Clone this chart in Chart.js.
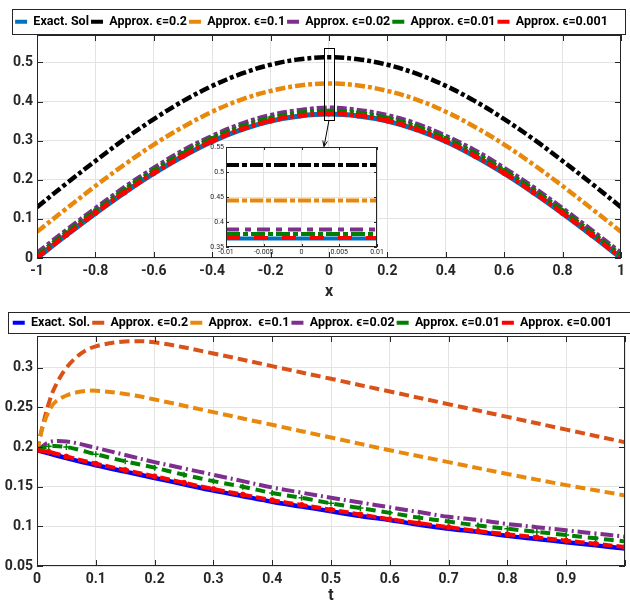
<!DOCTYPE html>
<html lang="en">
<head>
<meta charset="UTF-8" />
<title>Exact vs approximate solutions</title>
<script src="https://cdn.jsdelivr.net/npm/chart.js"></script>
<style>
  html, body { margin: 0; padding: 0; background: #fff; }
  #wrap { position: relative; width: 630px; height: 606px; overflow: hidden; }
  #top { position: absolute; left: 0; top: 0; }
  #inset { position: absolute; left: 195px; top: 140px; }
  #bottom { position: absolute; left: 0; top: 300px; }
</style>
</head>
<body>
<div id="wrap">
  <canvas id="top" width="630" height="300"></canvas>
  <canvas id="inset" width="190" height="122"></canvas>
  <canvas id="bottom" width="645" height="306"></canvas>
</div>
<script>
// ---- top panel: u(x) at final time ----
const xVals = [-1, -0.9, -0.8, -0.7, -0.6, -0.5, -0.4, -0.3, -0.2, -0.1, 0, 0.1, 0.2, 0.3, 0.4, 0.5, 0.6, 0.7, 0.8, 0.9, 1];
const exactX  = [0, 0.058, 0.114, 0.167, 0.216, 0.260, 0.298, 0.328, 0.350, 0.363, 0.368, 0.363, 0.350, 0.328, 0.298, 0.260, 0.216, 0.167, 0.114, 0.058, 0];
const eps02X  = [0.130, 0.190, 0.248, 0.304, 0.355, 0.401, 0.440, 0.471, 0.494, 0.508, 0.513, 0.508, 0.494, 0.471, 0.440, 0.401, 0.355, 0.304, 0.248, 0.190, 0.130];
const eps01X  = [0.067, 0.126, 0.184, 0.239, 0.290, 0.335, 0.374, 0.405, 0.427, 0.441, 0.446, 0.441, 0.427, 0.405, 0.374, 0.335, 0.290, 0.239, 0.184, 0.126, 0.067];
const eps002X = [0.013, 0.071, 0.127, 0.181, 0.230, 0.275, 0.312, 0.343, 0.365, 0.378, 0.384, 0.378, 0.365, 0.343, 0.312, 0.275, 0.230, 0.181, 0.127, 0.071, 0.013];
const eps001X = [0.007, 0.065, 0.121, 0.175, 0.224, 0.268, 0.306, 0.336, 0.358, 0.371, 0.376, 0.371, 0.358, 0.336, 0.306, 0.268, 0.224, 0.175, 0.121, 0.065, 0.007];
const eps0001X = [0.001, 0.059, 0.115, 0.168, 0.217, 0.261, 0.299, 0.329, 0.351, 0.364, 0.369, 0.364, 0.351, 0.329, 0.299, 0.261, 0.217, 0.168, 0.115, 0.059, 0.001];
const topLabels = ['Exact. Sol', 'Approx. \u03f5=0.2', 'Approx. \u03f5=0.1', 'Approx. \u03f5=0.02', 'Approx. \u03f5=0.01', 'Approx. \u03f5=0.001'];

// inset (zoom near x = 0)
const insetX = [-0.01, -0.005, 0, 0.005, 0.01];
const insetExact = [0.367, 0.367, 0.367, 0.367, 0.367];
const inset02 = [0.514, 0.514, 0.514, 0.514, 0.514];
const inset01 = [0.443, 0.443, 0.443, 0.443, 0.443];
const inset002 = [0.385, 0.385, 0.385, 0.385, 0.385];
const inset001 = [0.376, 0.376, 0.376, 0.376, 0.376];
const inset0001 = [0.368, 0.368, 0.368, 0.368, 0.368];
// zoom rectangle on the main panel (data units) and where the arrow lands
const zoomBox = { x0: -0.017, x1: 0.017, y0: 0.352, y1: 0.536 };
const arrowTo = { x: -0.017, y: 0.285 };

// ---- bottom panel: u at a point vs t ----
const tFine = [0, 0.005, 0.01, 0.02, 0.03, 0.05, 0.075, 0.1, 0.15, 0.2, 0.3, 0.4, 0.5, 0.6, 0.7, 0.8, 0.9, 1];
const eps02T = [0.195, 0.212, 0.228, 0.255, 0.275, 0.300, 0.318, 0.327, 0.333, 0.332, 0.318, 0.302, 0.286, 0.270, 0.254, 0.238, 0.222, 0.206];
const eps01T = [0.195, 0.212, 0.226, 0.245, 0.256, 0.265, 0.270, 0.271, 0.267, 0.260, 0.244, 0.228, 0.212, 0.196, 0.181, 0.166, 0.152, 0.139];
const tCoarse = [0, 0.02, 0.05, 0.1, 0.15, 0.2, 0.25, 0.3, 0.35, 0.4, 0.45, 0.5, 0.55, 0.6, 0.65, 0.7, 0.75, 0.8, 0.85, 0.9, 0.95, 1];
const exactT   = [0.196, 0.192, 0.186, 0.177, 0.169, 0.161, 0.153, 0.145, 0.138, 0.131, 0.125, 0.119, 0.113, 0.108, 0.102, 0.097, 0.093, 0.088, 0.084, 0.080, 0.076, 0.072];
const eps002T  = [0.195, 0.206, 0.207, 0.199, 0.190, 0.181, 0.173, 0.165, 0.157, 0.149, 0.1425, 0.136, 0.130, 0.124, 0.118, 0.112, 0.108, 0.103, 0.099, 0.095, 0.091, 0.087];
const eps001T  = [0.196, 0.201, 0.200, 0.191, 0.182, 0.174, 0.165, 0.157, 0.150, 0.142, 0.136, 0.129, 0.123, 0.117, 0.111, 0.106, 0.101, 0.097, 0.093, 0.089, 0.085, 0.081];
const eps0001T = [0.196, 0.194, 0.188, 0.179, 0.171, 0.163, 0.155, 0.147, 0.140, 0.133, 0.127, 0.121, 0.115, 0.109, 0.104, 0.099, 0.094, 0.090, 0.086, 0.082, 0.078, 0.074];
const bottomLabels = ['Exact. Sol.', 'Approx. \u03f5=0.2', 'Approx.  \u03f5=0.1', 'Approx. \u03f5=0.02', 'Approx. \u03f5=0.01', 'Approx. \u03f5=0.001'];

const FONT = "Roboto, 'Liberation Sans', 'DejaVu Sans', sans-serif";
const INK = '#262626';
const GRID = '#e3e3e3';
const tickFont = { family: FONT, size: 14, weight: 'bold' };
const fmt = v => String(Math.round(v * 1000) / 1000);
const pts = (xs, ys) => ys.map((y, i) => ({ x: xs[i], y }));

// MATLAB-like box with inward ticks
const framePlugin = {
  id: 'frame',
  afterDraw(chart, args, opts) {
    const { ctx, chartArea: a } = chart;
    const xs = chart.scales.x, ys = chart.scales.y;
    const len = opts.tick;
    ctx.save();
    ctx.strokeStyle = INK;
    ctx.lineWidth = 1;
    ctx.strokeRect(Math.round(a.left) + 0.5, Math.round(a.top) + 0.5, Math.round(a.right - a.left) - 1, Math.round(a.bottom - a.top) - 1);
    ctx.beginPath();
    xs.ticks.forEach(t => {
      const p = Math.round(xs.getPixelForValue(t.value)) + 0.5;
      ctx.moveTo(p, a.bottom); ctx.lineTo(p, a.bottom - len);
      ctx.moveTo(p, a.top); ctx.lineTo(p, a.top + len);
    });
    ys.ticks.forEach(t => {
      const p = Math.round(ys.getPixelForValue(t.value)) + 0.5;
      ctx.moveTo(a.left, p); ctx.lineTo(a.left + len, p);
      ctx.moveTo(a.right, p); ctx.lineTo(a.right - len, p);
    });
    ctx.stroke();
    ctx.restore();
  }
};

// legend: nudge down and draw its box
const legendBoxPlugin = {
  id: 'legendBox',
  afterLayout(chart, args, opts) {
    chart.legend.top += opts.shift;
    chart.legend.bottom += opts.shift;
  },
  afterDraw(chart, args, opts) {
    const ctx = chart.ctx;
    ctx.save();
    ctx.strokeStyle = INK;
    ctx.lineWidth = 1;
    ctx.strokeRect(opts.x0 + 0.5, opts.y0 + 0.5, opts.x1 - opts.x0, opts.y1 - opts.y0);
    ctx.restore();
  }
};

const zoomMarkPlugin = {
  id: 'zoomMark',
  afterDatasetsDraw(chart) {
    const { ctx } = chart;
    const xs = chart.scales.x, ys = chart.scales.y;
    const l = xs.getPixelForValue(zoomBox.x0), r = xs.getPixelForValue(zoomBox.x1);
    const t = ys.getPixelForValue(zoomBox.y1), b = ys.getPixelForValue(zoomBox.y0);
    ctx.save();
    ctx.strokeStyle = '#000';
    ctx.lineWidth = 1;
    ctx.strokeRect(Math.round(l) + 0.5, Math.round(t) + 0.5, Math.round(r - l), Math.round(b - t));
    const sx = (l + r) / 2, sy = b;
    const ex = xs.getPixelForValue(arrowTo.x), ey = ys.getPixelForValue(arrowTo.y);
    ctx.beginPath();
    ctx.moveTo(sx, sy); ctx.lineTo(ex, ey);
    ctx.stroke();
    const ang = Math.atan2(ey - sy, ex - sx);
    ctx.beginPath();
    ctx.moveTo(ex - 6 * Math.cos(ang - 0.4), ey - 6 * Math.sin(ang - 0.4));
    ctx.lineTo(ex, ey);
    ctx.lineTo(ex - 6 * Math.cos(ang + 0.4), ey - 6 * Math.sin(ang + 0.4));
    ctx.stroke();
    ctx.restore();
  }
};

const whiteAreaPlugin = {
  id: 'whiteArea',
  beforeDraw(chart) {
    const { ctx, chartArea: a } = chart;
    ctx.save();
    ctx.fillStyle = '#fff';
    ctx.fillRect(a.left, a.top, a.right - a.left, a.bottom - a.top);
    ctx.restore();
  }
};

function line(label, data, color, width, dash, order, extra) {
  return Object.assign({
    label, data, order,
    borderColor: color, backgroundColor: color,
    borderWidth: width, borderDash: dash,
    pointRadius: 0, tension: 0.35, fill: false
  }, extra || {});
}

function legendOpts() {
  return {
    display: true,
    position: 'top',
    labels: {
      font: { family: FONT, size: 12.5, weight: 'bold' },
      color: '#000',
      boxWidth: 12,
      boxHeight: 4,
      padding: 2,
      sort: (a, b) => a.datasetIndex - b.datasetIndex,
      generateLabels(chart) {
        const items = Chart.defaults.plugins.legend.labels.generateLabels(chart);
        items.forEach(it => { it.fillStyle = it.strokeStyle; it.lineWidth = 0; it.lineDash = []; it.pointStyle = undefined; });
        return items;
      }
    }
  };
}

function axis(extra) {
  return Object.assign({
    type: 'linear',
    grid: { color: GRID, drawTicks: false },
    border: { display: false }
  }, extra);
}

// ---------- top chart ----------
new Chart(document.getElementById('top'), {
  type: 'line',
  data: {
    datasets: [
      line(topLabels[0], pts(xVals, exactX), '#0072BD', 5, [], 5),
      line(topLabels[1], pts(xVals, eps02X), '#000000', 4.5, [10, 3, 4, 3], 4),
      line(topLabels[2], pts(xVals, eps01X), '#E8890C', 4.5, [10, 3, 4, 3], 3),
      line(topLabels[3], pts(xVals, eps002X), '#7E2F8E', 4.5, [10, 3, 4, 3], 2),
      line(topLabels[4], pts(xVals, eps001X), '#008000', 4.5, [10, 3, 4, 3], 1, { pointRadius: 2.5, pointStyle: 'rect', pointBorderWidth: 1 }),
      line(topLabels[5], pts(xVals, eps0001X), '#FF0000', 4.5, [10, 3, 4, 3], 0, { pointRadius: 2.5, pointBorderWidth: 1 })
    ]
  },
  options: {
    responsive: false,
    animation: false,
    layout: { padding: { top: 10.5, right: 7, left: 0, bottom: 0 } },
    plugins: {
      legend: legendOpts(),
      tooltip: { enabled: false },
      legendBox: { shift: 3, x0: 12, y0: 9, x1: 625, y1: 34 },
      frame: { tick: 6 }
    },
    scales: {
      x: axis({
        min: -1, max: 1,
        ticks: { stepSize: 0.2, font: tickFont, color: INK, padding: 5, callback: v => fmt(v) },
        title: { display: true, text: 'x', font: { family: FONT, size: 16, weight: 'bold' }, color: INK, padding: { top: 0, bottom: -2 } },
        afterFit: s => { s.height = 42; }
      }),
      y: axis({
        min: 0, max: 0.57,
        ticks: { stepSize: 0.1, includeBounds: false, font: tickFont, color: INK, padding: 4, callback: v => fmt(v) },
        afterFit: s => { s.width = 37; }
      })
    }
  },
  plugins: [legendBoxPlugin, framePlugin, zoomMarkPlugin]
});

// ---------- inset ----------
const smallFont = { family: FONT, size: 7 };
new Chart(document.getElementById('inset'), {
  type: 'line',
  data: {
    datasets: [
      line(topLabels[0], pts(insetX, insetExact), '#0072BD', 4, [], 5, { tension: 0 }),
      line(topLabels[1], pts(insetX, inset02), '#000000', 4, [13, 3, 5, 3], 4, { tension: 0 }),
      line(topLabels[2], pts(insetX, inset01), '#E8890C', 4, [13, 3, 5, 3], 3, { tension: 0 }),
      line(topLabels[3], pts(insetX, inset002), '#7E2F8E', 4, [13, 6, 6, 6], 2, { tension: 0 }),
      line(topLabels[4], pts(insetX, inset001), '#008000', 4, [14, 3, 5, 3], 1, { tension: 0 }),
      line(topLabels[5], pts(insetX, inset0001), '#FF0000', 4, [14, 14], 0, { tension: 0 })
    ]
  },
  options: {
    responsive: false,
    animation: false,
    layout: { padding: { top: 7, right: 8, left: 0, bottom: 0 } },
    plugins: { legend: { display: false }, tooltip: { enabled: false }, frame: { tick: 3 } },
    scales: {
      x: axis({
        min: -0.01, max: 0.01,
        ticks: { stepSize: 0.005, font: smallFont, color: INK, padding: 1, callback: v => fmt(v) },
        afterFit: s => { s.height = 15; }
      }),
      y: axis({
        min: 0.35, max: 0.55,
        ticks: { stepSize: 0.05, font: smallFont, color: INK, padding: 2, callback: v => fmt(v) },
        afterFit: s => { s.width = 31; }
      })
    }
  },
  plugins: [whiteAreaPlugin, framePlugin]
});

// ---------- bottom chart ----------
new Chart(document.getElementById('bottom'), {
  type: 'line',
  data: {
    datasets: [
      line(bottomLabels[0], pts(tCoarse, exactT), '#0000FF', 4.5, [], 5),
      line(bottomLabels[1], pts(tFine, eps02T), '#D95319', 4, [10, 5], 4),
      line(bottomLabels[2], pts(tFine, eps01T), '#E8890C', 4, [10, 5], 3),
      line(bottomLabels[3], pts(tCoarse, eps002T), '#7E2F8E', 4, [13, 4, 2, 4], 2),
      line(bottomLabels[4], pts(tCoarse, eps001T), '#008000', 4, [10, 6], 1, { pointRadius: 3, pointStyle: 'cross', pointBorderWidth: 1.5 }),
      line(bottomLabels[5], pts(tCoarse, eps0001T), '#FF0000', 4, [10, 4], 0, { pointRadius: 2.5, pointBorderWidth: 1 })
    ]
  },
  options: {
    responsive: false,
    animation: false,
    layout: { padding: { top: 11.5, right: 20, left: 0, bottom: 0 } },
    plugins: {
      legend: legendOpts(),
      tooltip: { enabled: false },
      legendBox: { shift: 3, x0: 8, y0: 12, x1: 660, y1: 33 },
      frame: { tick: 6 }
    },
    scales: {
      x: axis({
        min: 0, max: 1,
        ticks: { stepSize: 0.1, font: tickFont, color: INK, padding: 5, callback: v => (v >= 0.999 ? '' : fmt(v)) },
        title: { display: true, text: 't', font: { family: FONT, size: 16, weight: 'bold' }, color: INK, padding: { top: 0, bottom: 0 } },
        afterFit: s => { s.height = 40; }
      }),
      y: axis({
        min: 0.05, max: 0.34,
        ticks: { stepSize: 0.05, includeBounds: false, font: tickFont, color: INK, padding: 4, callback: v => fmt(v) },
        afterFit: s => { s.width = 37; }
      })
    }
  },
  plugins: [legendBoxPlugin, framePlugin]
});
</script>
</body>
</html>
